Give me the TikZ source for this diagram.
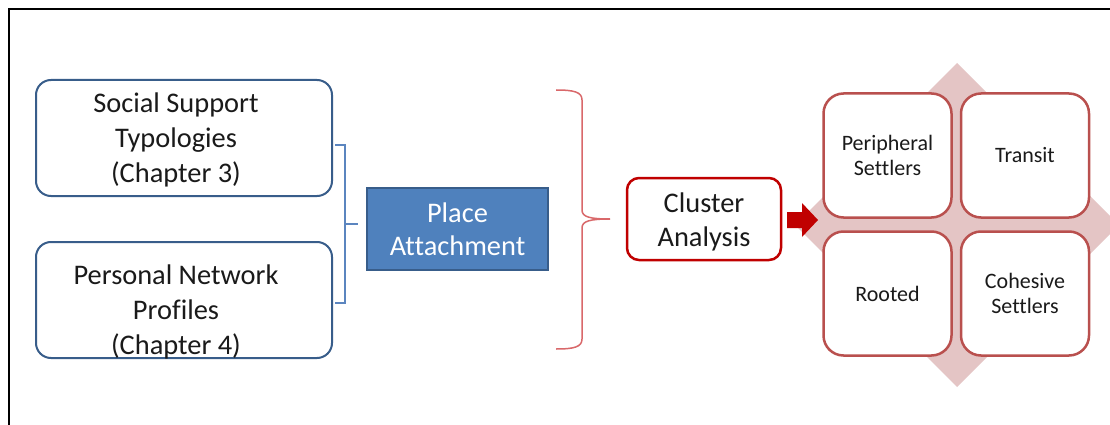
\documentclass[tikz,border=0pt]{standalone}
\usepackage{fontspec}
\setmainfont{Carlito}[Ligatures=NoCommon]
\definecolor{edgeblue}{HTML}{385D8A}
\definecolor{fillblue}{HTML}{4F81BD}
\definecolor{bracketblue}{HTML}{5B85BF}
\definecolor{clusterred}{HTML}{C00000}
\definecolor{bracered}{HTML}{D9686A}
\definecolor{quadred}{HTML}{B9504E}
\definecolor{quadpink}{HTML}{E4C5C5}
\definecolor{txt}{HTML}{1A1A1A}
\tikzset{
  srcbox/.style={draw=edgeblue, line width=2pt, rounded corners=15pt, fill=white,
    minimum width=296pt, minimum height=116pt, inner sep=0pt},
  srctext/.style={align=center, text=txt, inner sep=0pt,
    font=\fontsize{28.4}{35}\selectfont},
  placebox/.style={draw=edgeblue, line width=1.8pt, fill=fillblue, text=white,
    align=center, minimum width=181pt, minimum height=82pt, inner sep=0pt,
    font=\fontsize{28.4}{33}\selectfont},
  clusterbox/.style={draw=clusterred, line width=2.5pt, rounded corners=12pt, fill=white,
    align=center, text=txt, minimum width=154pt, minimum height=82pt, inner sep=0pt,
    font=\fontsize{28.4}{34}\selectfont},
  quadbox/.style={draw=quadred, line width=2.5pt, rounded corners=20pt, fill=white,
    align=center, text=txt, minimum width=128pt, minimum height=124pt, inner sep=0pt,
    font=\fontsize{22}{25}\selectfont},
  bluebracket/.style={draw=bracketblue, line width=1.5pt},
  redbrace/.style={draw=bracered, line width=1.5pt},
}
\begin{document}
\begin{tikzpicture}[x=1pt,y=-1pt]
\useasboundingbox (0,0) rectangle (1110,425);
\fill[white] (0,0) rectangle (1110,425);

% outer frame (open to the right and bottom)
\draw[black, line width=2.5pt] (9,425) -- (9,9) -- (1110,9);

% left column: the two source studies
\node[srcbox] (typ) at (184,138) {};
\node[srctext] (typtxt) at (176,140) {Social Support\\Typologies\\(Chapter 3)};
\node[srcbox] (net) at (184,300) {};
\node[srctext] (nettxt) at (176,312) {Personal Network\\Profiles\\(Chapter 4)};

% centre: place attachment
\node[placebox] (place) at (457.5,229) {Place\\Attachment};

% bracket joining the two studies
\coordinate (bTop) at (335,145);
\coordinate (bBot) at (335,303);
\coordinate (bMid) at (345,224);
\coordinate (bTip) at (358,224);
\draw[bluebracket] (bTop) -- (bTop -| bMid) -- (bBot -| bMid) -- (bBot);
\draw[bluebracket] (bMid) -- (bTip);

% cluster analysis
\node[clusterbox] (cluster) at (704,219) {};
\node[align=center, text=txt, inner sep=0pt, font=\fontsize{28.4}{34}\selectfont]
  (clustertxt) at (704,222) {Cluster\\Analysis};

% curly brace gathering everything into the cluster analysis
\coordinate (cTop) at (556,90);
\coordinate (cTip) at (610,219);
\coordinate (cBot) at (556,349);
\draw[redbrace] (cTop) .. controls (574,90) and (582,92) .. (582,100)
  -- (582,210) .. controls (582,217) and (590,219) .. (cTip)
  .. controls (590,219) and (582,221) .. (582,228)
  -- (582,339) .. controls (582,347) and (574,349) .. (cBot);

% backdrop diamond of the typology matrix
\fill[quadpink] (957,63) -- (1119,225) -- (957,387) -- (795,225) -- cycle;

% block arrow into the matrix
\fill[clusterred] (787,212) -- (802,212) -- (802,203) -- (818,220)
  -- (802,237) -- (802,228) -- (787,228) -- cycle;

% 2x2 matrix of resulting types
\node[quadbox] (peri) at (887.5,155.5) {Peripheral\\Settlers};
\node[quadbox] (trans) at (1025,155.5) {Transit};
\node[quadbox] (root) at (887.5,293.5) {Rooted};
\node[quadbox] (coh) at (1025,293.5) {Cohesive\\Settlers};
\end{tikzpicture}
\end{document}
